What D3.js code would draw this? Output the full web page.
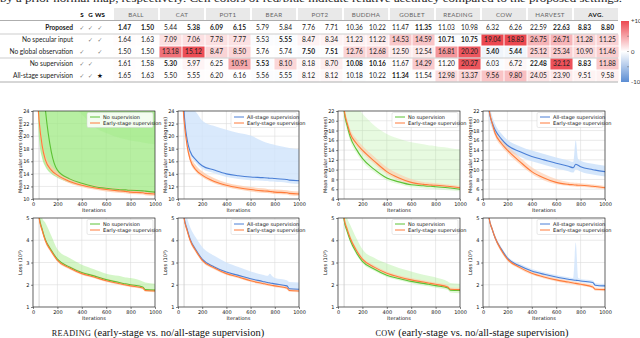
<!DOCTYPE html>
<html><head><meta charset="utf-8">
<script src="https://cdn.jsdelivr.net/npm/d3@7"></script>
<style>body{margin:0;background:#fff}svg{display:block}</style>
</head><body><div id="canvas"></div>
<script>
// ---- table data ----
const rowNames = ["Proposed", "No specular input", "No global observation", "No supervision", "All-stage supervision"];
const flagS = ["✓", "", "✓", "✓", "✓"];
const flagG = ["✓", "✓", "", "✓", "✓"];
const flagWS = ["✓", "✓", "✓", "", "★"];
const objects = ["BALL", "CAT", "POT1", "BEAR", "POT2", "BUDDHA", "GOBLET", "READING", "COW", "HARVEST", "AVG."];
const proposed = [1.47, 1.50, 5.44, 5.38, 6.09, 6.15, 5.79, 5.84, 7.76, 7.71, 10.36, 10.22, 11.47, 11.35, 11.03, 10.98, 6.32, 6.26, 22.59, 22.63, 8.83, 8.80];
const noSpecular = [1.64, 1.63, 7.09, 7.06, 7.78, 7.77, 5.53, 5.55, 8.47, 8.34, 11.23, 11.22, 14.53, 14.59, 10.71, 10.75, 19.04, 18.83, 26.75, 26.71, 11.28, 11.25];
const noGlobal = [1.50, 1.50, 13.18, 15.12, 8.47, 8.50, 5.76, 5.74, 7.50, 7.51, 12.76, 12.68, 12.50, 12.54, 16.81, 20.20, 5.40, 5.44, 25.12, 25.34, 10.90, 11.46];
const noSupervision = [1.61, 1.58, 5.30, 5.97, 6.25, 10.91, 5.53, 8.10, 8.18, 8.70, 10.08, 10.16, 11.67, 14.29, 11.20, 20.27, 6.03, 6.72, 22.48, 32.12, 8.83, 11.88];
const allStage = [1.65, 1.63, 5.50, 5.55, 6.20, 6.16, 5.56, 5.55, 8.12, 8.12, 10.18, 10.22, 11.34, 11.54, 12.98, 13.37, 9.56, 9.80, 24.05, 23.90, 9.51, 9.58];
const boldCells = [[0, 1, 3, 4, 5, 13, 19, 20, 21], [7, 14, 15], [8, 9, 16, 17], [2, 6, 10, 11, 18, 20], [12]];
const barTicks = ["+10", "0", "-10"];

// ---- curve data (iterations shared by all series) ----
const iters = [40, 50, 75, 100, 150, 200, 300, 400, 500, 600, 700, 740, 760, 780, 800, 900, 920, 1000];

// READING, mean angular error
const readEarly = [25, 22.5, 18.5, 16.3, 14.6, 13.8, 12.8, 12.2, 11.8, 11.5, 11.3, 11.25, 11.2, 11.15, 11.1, 11.0, 10.9, 10.8];
const readEarlyLo = [24.5, 22, 18.1, 15.9, 14.3, 13.5, 12.5, 11.9, 11.5, 11.2, 11.0, 10.95, 10.9, 10.85, 10.8, 10.7, 10.6, 10.5];
const readEarlyHi = [26, 23.6, 19.4, 17.1, 15.3, 14.4, 13.3, 12.6, 12.2, 11.9, 11.7, 11.6, 11.55, 11.5, 11.5, 11.4, 11.3, 11.2];
const readNone = [40, 36, 30, 24.5, 17.5, 14.6, 13.2, 12.5, 12.0, 11.7, 11.5, 11.45, 11.45, 11.4, 11.4, 11.3, 11.25, 11.1];
const readNoneLo = [24, 19.5, 16.5, 15.2, 14.0, 13.4, 12.6, 12.1, 11.7, 11.5, 11.3, 11.25, 11.2, 11.2, 11.2, 11.1, 11.05, 11.0];
const readNoneHi = [40, 40, 40, 40, 40, 40, 40, 40, 40, 40, 40, 40, 40, 40, 40, 40, 40, 40];
const readNoneSpread = [40, 40, 40, 40, 40, 30, 25.5, 23.5, 21.5, 20.5, 19.8, 19.6, 19.5, 19.4, 19.3, 19.0, 18.9, 18.7];
const readAll = [28, 24, 19.5, 17.6, 16.2, 15.3, 14.6, 14.0, 13.7, 13.5, 13.4, 13.35, 13.3, 13.3, 13.25, 13.1, 13.0, 12.9];
const readAllLo = [27, 23.3, 19.0, 17.1, 15.7, 14.8, 14.1, 13.5, 13.2, 13.0, 12.9, 12.85, 12.8, 12.8, 12.75, 12.6, 12.5, 12.4];
const readAllHi = [40, 40, 30, 25, 23.8, 22.5, 21.6, 21.0, 20.5, 20.1, 19.2, 18.9, 18.8, 18.7, 18.6, 18.2, 18.1, 17.9];

// COW, mean angular error
const cowEarly = [26, 22.5, 19.5, 17.4, 15.4, 14.0, 11.7, 9.6, 8.3, 7.4, 7.0, 6.9, 6.85, 6.8, 6.8, 6.6, 6.55, 6.3];
const cowEarlyLo = [25, 21.8, 18.8, 16.8, 14.8, 13.4, 11.1, 9.1, 7.8, 7.0, 6.65, 6.55, 6.5, 6.45, 6.45, 6.25, 6.2, 6.0];
const cowEarlyHi = [27, 23.3, 20.4, 18.3, 16.3, 14.9, 12.6, 10.5, 9.1, 8.1, 7.5, 7.35, 7.3, 7.25, 7.2, 6.95, 6.9, 6.65];
const cowNone = [26, 22, 19, 16.7, 14.2, 12.3, 10.0, 8.3, 7.5, 6.9, 6.7, 6.6, 6.6, 6.55, 6.5, 6.3, 6.25, 6.0];
const cowNoneLo = [25, 21, 18, 15.8, 13.4, 11.6, 9.4, 7.8, 7.0, 6.4, 6.2, 6.1, 6.1, 6.05, 6.0, 5.8, 5.75, 5.6];
const cowNoneHi = [35, 30, 27, 25, 23, 21.5, 19, 17.3, 16.3, 15.6, 15.2, 15.0, 14.95, 14.9, 14.8, 14.5, 14.4, 14.2];
const cowAll = [26, 22, 19.6, 18.1, 16.3, 15.0, 13.7, 12.7, 12.0, 11.3, 10.7, 10.4, 11.1, 10.9, 10.6, 10.0, 9.9, 9.6];
const cowAllLo = [24, 20.5, 18.4, 17.0, 15.3, 14.0, 12.7, 11.7, 11.0, 10.3, 9.7, 9.4, 10.1, 9.9, 9.6, 9.0, 8.9, 8.6];
const cowAllHi = [28, 24, 21, 19.3, 17.4, 16.1, 14.8, 13.9, 13.2, 12.5, 11.9, 11.6, 16.0, 12.2, 11.8, 11.2, 11.1, 10.8];

// READING, loss (10^2)
const readEarlyLoss = [5.6, 5.0, 4.45, 4.0, 3.5, 3.1, 2.75, 2.5, 2.35, 2.18, 2.06, 2.01, 1.99, 1.97, 1.95, 1.85, 1.74, 1.72];
const readEarlyLossLo = [5.5, 4.9, 4.35, 3.9, 3.42, 3.03, 2.68, 2.44, 2.29, 2.12, 2.0, 1.95, 1.93, 1.91, 1.89, 1.79, 1.68, 1.66];
const readEarlyLossHi = [5.8, 5.2, 4.6, 4.15, 3.62, 3.2, 2.84, 2.6, 2.45, 2.28, 2.15, 2.1, 2.08, 2.06, 2.04, 1.93, 1.82, 1.8];
const readNoneLoss = [5.7, 5.1, 4.5, 4.05, 3.55, 3.15, 2.8, 2.55, 2.4, 2.23, 2.11, 2.06, 2.04, 2.02, 2.0, 1.9, 1.78, 1.76];
const readNoneLossLo = [5.6, 5.0, 4.4, 3.95, 3.47, 3.07, 2.72, 2.48, 2.33, 2.16, 2.04, 1.99, 1.97, 1.95, 1.93, 1.83, 1.71, 1.69];
const readNoneLossHi = [6, 5.6, 5.0, 4.8, 4.2, 3.6, 3.2, 2.9, 2.7, 2.5, 2.4, 2.35, 2.33, 2.32, 2.3, 2.15, 2.1, 2.05];
const readAllLoss = [5.7, 5.05, 4.5, 4.05, 3.55, 3.15, 2.8, 2.57, 2.42, 2.27, 2.15, 2.1, 2.08, 2.06, 2.04, 1.95, 1.82, 1.8];
const readAllLossLo = [5.6, 4.97, 4.42, 3.98, 3.48, 3.08, 2.74, 2.51, 2.36, 2.21, 2.09, 2.04, 2.02, 2.0, 1.98, 1.89, 1.76, 1.74];
const readAllLossHi = [6, 5.6, 5.0, 4.6, 4.1, 3.7, 3.3, 3.0, 2.8, 2.6, 2.45, 2.4, 2.5, 2.38, 2.3, 2.2, 2.12, 2.1];

// COW, loss (10^2)
const cowEarlyLoss = [5.6, 5.0, 4.5, 4.1, 3.55, 3.15, 2.78, 2.52, 2.35, 2.22, 2.12, 2.08, 2.06, 2.04, 2.02, 1.9, 1.8, 1.78];
const cowEarlyLossLo = [5.5, 4.9, 4.4, 4.0, 3.46, 3.07, 2.71, 2.45, 2.28, 2.15, 2.05, 2.01, 1.99, 1.97, 1.95, 1.83, 1.73, 1.71];
const cowEarlyLossHi = [5.8, 5.15, 4.62, 4.22, 3.66, 3.25, 2.87, 2.6, 2.43, 2.3, 2.2, 2.16, 2.14, 2.12, 2.1, 1.98, 1.88, 1.86];
const cowNoneLoss = [5.5, 4.9, 4.4, 4.0, 3.45, 3.05, 2.7, 2.43, 2.28, 2.15, 2.06, 2.02, 2.0, 1.98, 1.96, 1.86, 1.76, 1.74];
const cowNoneLossLo = [5.4, 4.8, 4.3, 3.9, 3.36, 2.97, 2.62, 2.35, 2.2, 2.07, 1.97, 1.93, 1.91, 1.89, 1.87, 1.76, 1.65, 1.62];
const cowNoneLossHi = [6, 5.6, 5.0, 4.7, 4.1, 3.6, 3.2, 2.95, 2.75, 2.6, 2.45, 2.4, 2.38, 2.36, 2.33, 2.15, 2.08, 2.05];
const cowAllLoss = [5.6, 5.0, 4.5, 4.1, 3.6, 3.2, 2.85, 2.62, 2.47, 2.35, 2.25, 2.21, 2.2, 2.19, 2.17, 2.1, 1.98, 1.95];
const cowAllLossLo = [5.5, 4.92, 4.43, 4.03, 3.54, 3.14, 2.79, 2.56, 2.41, 2.29, 2.19, 2.15, 2.14, 2.13, 2.11, 2.04, 1.92, 1.89];
const cowAllLossHi = [5.8, 5.12, 4.6, 4.2, 3.7, 3.29, 2.94, 2.71, 2.56, 2.44, 2.34, 2.3, 3.9, 2.3, 2.26, 2.19, 2.07, 2.04];

const W = 640, H = 338;
const svg = d3.select("#canvas").append("svg").attr("width", W).attr("height", H);

// clipped caption line at the very top
svg.append("text").attr("x", 0).attr("y", 1.5)
    .attr("font-family", "Liberation Serif").attr("font-size", 11).attr("fill", "#222")
    .attr("textLength", 622).attr("lengthAdjust", "spacingAndGlyphs")
    .text("by a prior normal map, respectively. Cell colors of red/blue indicate relative accuracy compared to the proposed settings.");

// ---------- table ----------
const rows = [proposed, noSpecular, noGlobal, noSupervision, allStage];
const sans = "Lato, 'Open Sans', sans-serif";
const gx = d3.scaleBand().domain(objects).range([113, 619]);
const cx = d3.scaleBand().domain([0, 1]).range([0, gx.bandwidth()]).paddingInner(0.04).paddingOuter(0.02);
const ry = d3.scaleBand().domain(d3.range(rows.length)).range([22, 82]);
const heat = d3.scaleLinear().domain([-10, 0, 10]).range(["#5b8dd3", "#ffffff", "#ec4850"]).clamp(true);
const colX = i => gx(objects[Math.floor(i / 2)]) + cx(i % 2);

const tbl = svg.append("g");
tbl.selectAll(".hbox").data(objects).enter().append("rect")
    .attr("x", d => gx(d) + 1).attr("y", 8).attr("width", gx.bandwidth() - 2).attr("height", 12)
    .attr("fill", "#e9e9e9");
tbl.selectAll(".htxt").data(objects).enter().append("text")
    .attr("x", d => gx(d) + gx.bandwidth() / 2).attr("y", 16.5).attr("text-anchor", "middle")
    .attr("font-family", sans).attr("font-size", 6.2)
    .attr("font-weight", d => d === "AVG." ? "bold" : "normal")
    .attr("fill", d => d === "AVG." ? "#111" : "#666")
    .attr("letter-spacing", 0.3).text(d => d);
[["S", 82], ["G", 90.5], ["WS", 100]].forEach(([t, x]) => {
    tbl.append("text").attr("x", x).attr("y", 16.5).attr("text-anchor", "middle")
        .attr("font-family", sans).attr("font-size", 6.2).attr("font-weight", "bold").text(t);
});

rows.forEach((r, ri) => {
    const g = tbl.append("g");
    g.selectAll("rect").data(r).enter().append("rect")
        .attr("x", (d, i) => colX(i)).attr("y", ry(ri) + 0.5)
        .attr("width", cx.bandwidth()).attr("height", ry.bandwidth() - 1)
        .attr("fill", (d, i) => heat(d - proposed[i]));
    g.selectAll("text").data(r).enter().append("text")
        .attr("x", (d, i) => colX(i) + cx.bandwidth() / 2).attr("y", ry(ri) + ry.bandwidth() / 2 + 2.4)
        .attr("text-anchor", "middle").attr("font-family", sans).attr("font-size", 6.6)
        .attr("font-weight", (d, i) => boldCells[ri].includes(i) ? "bold" : "normal")
        .attr("fill", "#222").text(d => d.toFixed(2));
    tbl.append("text").attr("x", 73).attr("y", ry(ri) + ry.bandwidth() / 2 + 2.4)
        .attr("text-anchor", "end").attr("font-family", sans).attr("font-size", 6.6)
        .attr("font-weight", ri === 0 ? "bold" : "normal").attr("fill", "#222").text(rowNames[ri]);
    [[flagS, 82], [flagG, 90.5], [flagWS, 100]].forEach(([f, x]) => {
        tbl.append("text").attr("x", x).attr("y", ry(ri) + ry.bandwidth() / 2 + 2.2)
            .attr("text-anchor", "middle").attr("font-family", "DejaVu Sans")
            .attr("font-size", f[ri] === "★" ? 6.5 : 5.8).attr("fill", f[ri] === "★" ? "#111" : "#666").text(f[ri]);
    });
});
[[0, 618, 20.5, 0.8], [0, 618, 34, 0.5], [0, 618, 58, 0.5], [0, 618, 82, 0.8]].forEach(([a, b, y, w]) => {
    tbl.append("line").attr("x1", a).attr("x2", b).attr("y1", y).attr("y2", y)
        .attr("stroke", "#999").attr("stroke-width", w);
});

// colour bar
const defs = svg.append("defs");
const grad = defs.append("linearGradient").attr("id", "cbar").attr("x1", 0).attr("x2", 0).attr("y1", 0).attr("y2", 1);
[10, 0, -10].forEach((v, i) => grad.append("stop").attr("offset", i / 2).attr("stop-color", heat(v)));
const cb = d3.scaleLinear().domain([10, -10]).range([21, 82]);
svg.append("rect").attr("x", 621).attr("y", cb(10)).attr("width", 8).attr("height", cb(-10) - cb(10)).attr("fill", "url(#cbar)");
svg.selectAll(".cbt").data([10, 0, -10]).enter().append("text")
    .attr("x", 631).attr("y", d => cb(d) + 2).attr("font-family", sans).attr("font-size", 6).attr("fill", "#333")
    .text((d, i) => barTicks[i]);
svg.selectAll(".cbm").data([5, 0, -5]).enter().append("line")
    .attr("x1", 627).attr("x2", 629).attr("y1", d => cb(d)).attr("y2", d => cb(d)).attr("stroke", "#666").attr("stroke-width", 0.5);

// ---------- curve panels ----------
const GREEN = "#5cc234", GREEN_F = "#9fea83", BLUE = "#4a7fd6", BLUE_F = "#cfe3fb", ORANGE = "#ff7b3a", ORANGE_F = "#ffc9a8";
const maeLabel = "Mean angular errors (degrees)";
const panels = [
    { x: [33, 155], y: [111, 199], dom: [10, 24], step: 2, yl: maeLabel,
      bands: [[readNoneLo, readNoneHi, GREEN_F, 0.75], [readNoneSpread, readNoneHi, GREEN_F, 0.35], [readEarlyLo, readEarlyHi, ORANGE_F, 0.75]],
      lines: [[readNone, GREEN, "No supervision"], [readEarly, ORANGE, "Early-stage supervision"]] },
    { x: [178, 299], y: [111, 199], dom: [10, 24], step: 2, yl: maeLabel,
      bands: [[readAllLo, readAllHi, BLUE_F, 0.8], [readEarlyLo, readEarlyHi, ORANGE_F, 0.75]],
      lines: [[readAll, BLUE, "All-stage supervision"], [readEarly, ORANGE, "Early-stage supervision"]] },
    { x: [338, 460], y: [111, 199], dom: [4, 22], step: 2, yl: maeLabel,
      bands: [[cowNoneLo, cowNoneHi, GREEN_F, 0.25], [cowEarlyLo, cowEarlyHi, ORANGE_F, 0.6]],
      lines: [[cowNone, GREEN, "No supervision"], [cowEarly, ORANGE, "Early-stage supervision"]] },
    { x: [483, 605], y: [111, 199], dom: [4, 22], step: 2, yl: maeLabel,
      bands: [[cowAllLo, cowAllHi, BLUE_F, 0.9], [cowEarlyLo, cowEarlyHi, ORANGE_F, 0.6]],
      lines: [[cowAll, BLUE, "All-stage supervision"], [cowEarly, ORANGE, "Early-stage supervision"]] },
    { x: [33, 155], y: [218, 307], dom: [1, 5], step: 1, yl: "Loss (10²)",
      bands: [[readNoneLossLo, readNoneLossHi, GREEN_F, 0.45], [readEarlyLossLo, readEarlyLossHi, ORANGE_F, 0.6]],
      lines: [[readNoneLoss, GREEN, "No supervision"], [readEarlyLoss, ORANGE, "Early-stage supervision"]] },
    { x: [178, 299], y: [218, 307], dom: [1, 5], step: 1, yl: "Loss (10²)",
      bands: [[readAllLossLo, readAllLossHi, BLUE_F, 0.8], [readEarlyLossLo, readEarlyLossHi, ORANGE_F, 0.6]],
      lines: [[readAllLoss, BLUE, "All-stage supervision"], [readEarlyLoss, ORANGE, "Early-stage supervision"]] },
    { x: [338, 460], y: [218, 307], dom: [1, 5], step: 1, yl: "Loss (10²)",
      bands: [[cowNoneLossLo, cowNoneLossHi, GREEN_F, 0.35], [cowEarlyLossLo, cowEarlyLossHi, ORANGE_F, 0.6]],
      lines: [[cowNoneLoss, GREEN, "No supervision"], [cowEarlyLoss, ORANGE, "Early-stage supervision"]] },
    { x: [483, 605], y: [218, 307], dom: [1, 5], step: 1, yl: "Loss (10²)",
      bands: [[cowAllLossLo, cowAllLossHi, BLUE_F, 0.8], [cowEarlyLossLo, cowEarlyLossHi, ORANGE_F, 0.6]],
      lines: [[cowAllLoss, BLUE, "All-stage supervision"], [cowEarlyLoss, ORANGE, "Early-stage supervision"]] }
];

const tickFont = "DejaVu Sans";
panels.forEach((p, pi) => {
    const x = d3.scaleLinear().domain([0, 1000]).range(p.x);
    const y = d3.scaleLinear().domain(p.dom).range([p.y[1], p.y[0]]);
    const g = svg.append("g");
    const yt = d3.range(p.dom[0], p.dom[1] + 0.001, p.step);
    const xt = d3.range(0, 1001, 200);

    defs.append("clipPath").attr("id", "clip" + pi).append("rect")
        .attr("x", p.x[0]).attr("y", p.y[0]).attr("width", p.x[1] - p.x[0]).attr("height", p.y[1] - p.y[0]);

    g.selectAll(".gx").data(xt).enter().append("line")
        .attr("x1", d => x(d)).attr("x2", d => x(d)).attr("y1", p.y[0]).attr("y2", p.y[1])
        .attr("stroke", "#dcdcdc").attr("stroke-width", 0.6);
    g.selectAll(".gy").data(yt).enter().append("line")
        .attr("x1", p.x[0]).attr("x2", p.x[1]).attr("y1", d => y(d)).attr("y2", d => y(d))
        .attr("stroke", "#dcdcdc").attr("stroke-width", 0.6);

    const plot = g.append("g").attr("clip-path", `url(#clip${pi})`);
    plot.append("line").attr("x1", x(50)).attr("x2", x(50)).attr("y1", p.y[0]).attr("y2", p.y[1])
        .attr("stroke", "#c8c8c8").attr("stroke-width", 0.8);
    const area = d3.area().x((d, i) => x(iters[i])).y0(d => y(d[0])).y1(d => y(d[1])).curve(d3.curveMonotoneX);
    p.bands.forEach(([lo, hi, c, op]) => {
        plot.append("path").datum(lo.map((v, i) => [v, hi[i]])).attr("d", area)
            .attr("fill", c).attr("fill-opacity", op);
    });
    const line = d3.line().x((d, i) => x(iters[i])).y(d => y(d)).curve(d3.curveMonotoneX);
    p.lines.forEach(([vals, c]) => {
        plot.append("path").datum(vals).attr("d", line).attr("fill", "none")
            .attr("stroke", c).attr("stroke-width", 1.1);
    });

    const ax = g.append("g").attr("transform", `translate(0,${p.y[1]})`)
        .call(d3.axisBottom(x).tickValues(xt).tickFormat(d3.format("d")).tickSize(2).tickPadding(1));
    const ay = g.append("g").attr("transform", `translate(${p.x[0]},0)`)
        .call(d3.axisLeft(y).tickValues(yt).tickFormat(d3.format("d")).tickSize(2).tickPadding(1.5));
    [ax, ay].forEach(a => {
        a.select(".domain").remove();
        a.selectAll("text").attr("font-family", tickFont).attr("font-size", 5).attr("fill", "#111");
        a.selectAll("line").attr("stroke", "#111").attr("stroke-width", 0.5);
    });
    g.append("rect").attr("x", p.x[0]).attr("y", p.y[0]).attr("width", p.x[1] - p.x[0]).attr("height", p.y[1] - p.y[0])
        .attr("fill", "none").attr("stroke", "#111").attr("stroke-width", 0.6);
    g.append("text").attr("x", (p.x[0] + p.x[1]) / 2).attr("y", p.y[1] + 12.5).attr("text-anchor", "middle")
        .attr("font-family", tickFont).attr("font-size", 5).attr("fill", "#111").text("Iterations");
    g.append("text").attr("transform", `translate(${p.x[0] - 11},${(p.y[0] + p.y[1]) / 2}) rotate(-90)`)
        .attr("text-anchor", "middle").attr("font-family", tickFont).attr("font-size", 5).attr("fill", "#111").text(p.yl);

    const lw = 66, lx = p.x[1] - lw - 2, ly = p.y[0] + 1.5;
    const lg = g.append("g");
    lg.append("rect").attr("x", lx).attr("y", ly).attr("width", lw).attr("height", 15).attr("rx", 1.5)
        .attr("fill", "#fff").attr("fill-opacity", 0.85).attr("stroke", "#d0d0d0").attr("stroke-width", 0.5);
    p.lines.forEach(([vals, c, label], i) => {
        const yy = ly + 4.5 + i * 6;
        lg.append("line").attr("x1", lx + 3).attr("x2", lx + 13).attr("y1", yy).attr("y2", yy)
            .attr("stroke", c).attr("stroke-width", 1);
        lg.append("text").attr("x", lx + 16).attr("y", yy + 1.8).attr("font-family", tickFont)
            .attr("font-size", 5).attr("fill", "#111").text(label);
    });
});

// captions
const caps = [["READING", 158], ["COW", 472]];
caps.forEach(([name, cxp]) => {
    const t = svg.append("text").attr("x", cxp).attr("y", 336).attr("text-anchor", "middle")
        .attr("font-family", "Liberation Serif").attr("font-size", 10.5).attr("fill", "#111");
    t.append("tspan").attr("font-size", 8.2).attr("letter-spacing", 0.4).text(name);
    t.append("tspan").text(" (early-stage vs. no/all-stage supervision)");
});
</script>
</body></html>
